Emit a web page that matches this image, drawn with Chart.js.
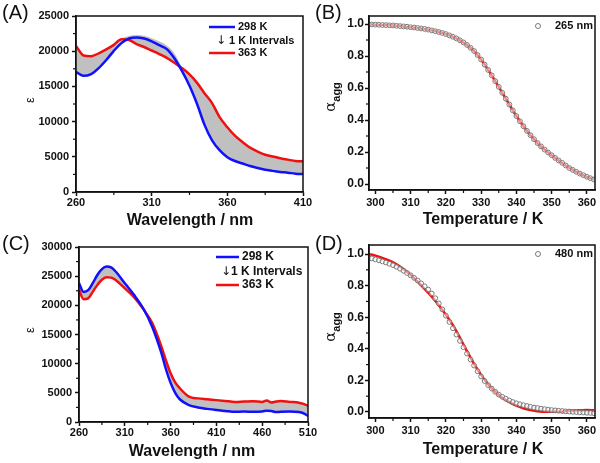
<!DOCTYPE html>
<html>
<head>
<meta charset="utf-8">
<script src="https://cdn.jsdelivr.net/npm/chart.js@4/dist/chart.umd.min.js"></script>
<style>
  body { margin: 0; background: #fff; }
  #wrap { position: relative; width: 600px; height: 463px; overflow: hidden; }
  canvas { position: absolute; }
</style>
</head>
<body>
<div id="wrap">
  <canvas id="chartA" width="320" height="232" style="left:0;top:0"></canvas>
  <canvas id="chartB" width="300" height="232" style="left:300px;top:0"></canvas>
  <canvas id="chartC" width="320" height="232" style="left:0;top:231px"></canvas>
  <canvas id="chartD" width="300" height="232" style="left:300px;top:231px"></canvas>
</div>
<script>
// ---- (A) spectra, 298 K and 363 K ----
const aWavelength = [260,265,270,275,280,285,290,295,300,305,310,315,320,325,330,335,340,345,350,355,360,365,370,375,380,385,390,395,400,405,410];
const aBlue298 = [17050,16500,16750,17600,18750,20050,21150,21800,21950,21800,21400,20850,20300,19000,17200,15100,12500,9500,7300,5900,4950,4400,4050,3700,3400,3150,3000,2850,2750,2600,2550];
const aRed363 = [20750,19400,19300,19700,20250,20900,21700,21600,21000,20600,20100,19600,19050,18350,17600,16700,15500,14000,12600,10600,9200,8000,7100,6300,5750,5300,5050,4800,4600,4400,4350];
// upper edge of the grey band of intermediate temperatures near the maximum
const aBandWl = [285,290,295,300,305,310,315,320,325,330];
const aBandTop = [20950,21750,22150,22300,22200,21850,21400,20800,19700,17700];

// ---- (C) spectra, 298 K and 363 K ----
const cWavelength = [260,265,270,275,280,285,290,295,300,310,320,330,340,350,355,360,365,370,380,390,400,410,420,430,440,450,460,465,470,475,480,490,500,505,510];
const cBlue298 = [23800,22300,22600,23800,25200,26200,26650,26500,25800,23800,21800,19500,16300,11800,9000,6700,5000,3900,2900,2500,2250,2050,1900,1750,1800,1750,1800,1950,1900,1700,1750,1800,1700,1500,1050];
const cRed363 = [22650,21050,21200,22300,23500,24400,24800,24750,24350,22900,21400,19400,16950,12900,10500,8350,6800,5800,4350,4050,3900,3750,3600,3450,3500,3550,3450,3700,3350,3500,3600,3450,3300,3100,2800];

// ---- (B) and (D) degree of aggregation ----
const temperature = [298,299,300,301,302,303,304,305,306,307,308,309,310,311,312,313,314,315,316,317,318,319,320,321,322,323,324,325,326,327,328,329,330,331,332,333,334,335,336,337,338,339,340,341,342,343,344,345,346,347,348,349,350,351,352,353,354,355,356,357,358,359,360,361,362];
const bAlpha265 = [0.998,0.997,0.996,0.995,0.994,0.993,0.992,0.991,0.989,0.987,0.985,0.983,0.980,0.978,0.975,0.972,0.969,0.965,0.960,0.955,0.950,0.944,0.937,0.929,0.920,0.910,0.898,0.885,0.869,0.851,0.831,0.806,0.778,0.746,0.713,0.679,0.643,0.607,0.570,0.533,0.497,0.460,0.425,0.392,0.361,0.332,0.305,0.280,0.256,0.235,0.215,0.197,0.180,0.163,0.147,0.132,0.116,0.100,0.088,0.076,0.065,0.055,0.045,0.036,0.028];
const bFitTemp = [298,300,302,304,306,308,310,312,314,316,318,320,322,324,326,328,330,332,334,336,338,340,342,344,346,348,350,352,354,356,358,360,362];
const bFitAlpha = [0.998,0.996,0.994,0.992,0.989,0.985,0.980,0.975,0.969,0.960,0.950,0.937,0.920,0.898,0.869,0.831,0.778,0.713,0.643,0.570,0.497,0.425,0.361,0.305,0.256,0.215,0.180,0.147,0.116,0.088,0.065,0.045,0.028];
const dAlpha480 = [0.978,0.972,0.966,0.960,0.953,0.946,0.938,0.930,0.919,0.907,0.894,0.880,0.865,0.849,0.832,0.814,0.795,0.775,0.750,0.720,0.687,0.650,0.610,0.570,0.530,0.490,0.450,0.410,0.370,0.332,0.294,0.258,0.225,0.196,0.170,0.148,0.128,0.110,0.096,0.084,0.073,0.063,0.055,0.049,0.043,0.038,0.033,0.028,0.025,0.021,0.018,0.015,0.012,0.010,0.008,0.006,0.004,0.003,0.001,0.000,-0.002,-0.003,-0.005,-0.006,-0.008];
const dFitTemp = [298,300,302,304,306,308,310,312,314,316,318,320,322,324,326,328,330,332,334,336,338,340,342,344,346,348,350,352,353,354,355,356,358,360,362];
const dFitAlpha = [1.0,0.99,0.975,0.958,0.935,0.905,0.868,0.825,0.778,0.73,0.675,0.615,0.55,0.47,0.385,0.305,0.235,0.175,0.128,0.09,0.062,0.04,0.024,0.012,0.004,0.002,0.001,0.001,0.002,0.006,0.009,0.01,0.011,0.012,0.011];

// ---- tick labels ----
const aXTicks = [260,310,360,410];
const aYTicks = [0,5000,10000,15000,20000,25000];
const cXTicks = [260,310,360,410,460,510];
const cYTicks = [0,5000,10000,15000,20000,25000,30000];
const tXTicks = [300,310,320,330,340,350,360];
const tYTicks = [0,0.2,0.4,0.6,0.8,1.0];

const FONT = '"Liberation Sans", Arial, sans-serif';
const BLUE = '#1010ff';
const RED = '#f01010';
const GREY = '#c0c0c0';

function pts(xs, ys) {
  return xs.map((x, i) => ({ x: x, y: ys[i] }));
}

// draws the box, minor ticks, panel letter, axis titles and legend
const decor = {
  id: 'decor',
  afterDraw(chart, args, o) {
    const ctx = chart.ctx, ca = chart.chartArea;
    const xs = chart.scales.x, ys = chart.scales.y;
    ctx.save();
    ctx.strokeStyle = '#111';
    ctx.lineWidth = 1.5;
    ctx.strokeRect(ca.left, ca.top, ca.right - ca.left, ca.bottom - ca.top);

    // minor ticks halfway between the major ones
    ctx.lineWidth = 1.2;
    const mx = o.xTicks, my = o.yTicks;
    for (let i = 0; i < mx.length - 1; i++) {
      const px = xs.getPixelForValue((mx[i] + mx[i + 1]) / 2);
      ctx.beginPath(); ctx.moveTo(px, ca.bottom); ctx.lineTo(px, ca.bottom + 3); ctx.stroke();
    }
    for (let i = 0; i < my.length - 1; i++) {
      const py = ys.getPixelForValue((my[i] + my[i + 1]) / 2);
      ctx.beginPath(); ctx.moveTo(ca.left, py); ctx.lineTo(ca.left - 3, py); ctx.stroke();
    }

    ctx.fillStyle = '#111';
    // panel letter
    ctx.font = '20px ' + FONT;
    ctx.textAlign = 'left';
    ctx.textBaseline = 'middle';
    ctx.fillText(o.letter, o.letterX, 13);

    // x title
    ctx.font = 'bold 16px ' + FONT;
    ctx.textAlign = 'center';
    ctx.fillText(o.xTitle, o.xTitleX, o.xTitleY);

    // y title (rotated)
    ctx.save();
    ctx.translate(o.yTitleX, o.yTitleY);
    ctx.rotate(-Math.PI / 2);
    if (o.yTitle === 'eps') {
      ctx.font = '13px ' + FONT;
      ctx.textAlign = 'center';
      ctx.fillText('ε', 0, 0);
    } else {
      ctx.font = '15px "DejaVu Serif", serif';
      ctx.textAlign = 'left';
      const w = ctx.measureText('α').width;
      ctx.font = 'bold 11px ' + FONT;
      const ws = ctx.measureText('agg').width;
      const start = -(w + ws) / 2;
      ctx.font = '15px "DejaVu Serif", serif';
      ctx.fillText('α', start, -2);
      ctx.font = 'bold 11px ' + FONT;
      ctx.fillText('agg', start + w, 4);
    }
    ctx.restore();

    // legend
    const L = o.legend;
    if (L.type === 'lines') {
      ctx.lineWidth = 2.5;
      ctx.strokeStyle = BLUE;
      ctx.beginPath(); ctx.moveTo(L.x0, L.y1); ctx.lineTo(L.x1, L.y1); ctx.stroke();
      ctx.strokeStyle = RED;
      ctx.beginPath(); ctx.moveTo(L.x0, L.y3); ctx.lineTo(L.x1, L.y3); ctx.stroke();
      ctx.textAlign = 'left';
      ctx.font = 'bold ' + L.size + 'px ' + FONT;
      ctx.fillText('298 K', L.tx, L.y1);
      ctx.fillText('363 K', L.tx, L.y3);
      ctx.fillText('1 K Intervals', L.ix, L.y2);
      ctx.font = '12px "DejaVu Sans", sans-serif';
      ctx.textAlign = 'center';
      ctx.fillText('↓', L.ax, L.y2);
    } else {
      ctx.lineWidth = 1;
      ctx.strokeStyle = '#777';
      ctx.beginPath(); ctx.arc(L.cx, L.cy, 2.5, 0, Math.PI * 2); ctx.stroke();
      ctx.font = 'bold 11px ' + FONT;
      ctx.textAlign = 'left';
      ctx.fillText(L.text, L.tx, L.cy);
    }
    ctx.restore();
  }
};

function axes(cfg) {
  const tickFont = (s) => ({ family: FONT, weight: 'bold', size: s });
  return {
    x: {
      type: 'linear', min: cfg.xMin, max: cfg.xMax,
      afterBuildTicks: (s) => { s.ticks = cfg.xTicks.map(v => ({ value: v })); },
      afterFit: (s) => { s.height = cfg.xHeight; s.paddingLeft = 0; s.paddingRight = 0; },
      grid: { drawOnChartArea: false, drawTicks: true, tickLength: 4, tickWidth: 1.5, tickColor: '#111' },
      border: { display: true, color: '#111', width: 1.5 },
      ticks: { color: '#111', font: tickFont(cfg.xFont), padding: cfg.xPad, maxRotation: 0, autoSkip: false }
    },
    y: {
      type: 'linear', min: cfg.yMin, max: cfg.yMax,
      afterBuildTicks: (s) => { s.ticks = cfg.yTicks.map(v => ({ value: v })); },
      afterFit: (s) => { s.width = cfg.yWidth; s.paddingTop = 0; s.paddingBottom = 0; },
      grid: { drawOnChartArea: false, drawTicks: true, tickLength: 4, tickWidth: 1.5, tickColor: '#111' },
      border: { display: true, color: '#111', width: 1.5 },
      ticks: { color: '#111', font: tickFont(cfg.yFont), padding: cfg.yPad, autoSkip: false, callback: cfg.yFmt }
    }
  };
}

function baseOptions(cfg, decorOpts) {
  return {
    responsive: false,
    animation: false,
    devicePixelRatio: 1,
    layout: { padding: { left: 0, top: cfg.top, right: cfg.right, bottom: 0 } },
    scales: axes(cfg),
    plugins: {
      legend: { display: false },
      tooltip: { enabled: false },
      filler: { drawTime: 'beforeDatasetsDraw' },
      decor: decorOpts
    },
    elements: { point: { radius: 0 } }
  };
}

function spectrumChart(id, xs, blue, red, band, cfg, decorOpts) {
  const datasets = [
    { data: pts(xs, blue), borderColor: BLUE, borderWidth: 2.5, cubicInterpolationMode: 'monotone', fill: false, order: 1 },
    { data: pts(xs, red), borderColor: RED, borderWidth: 2.5, cubicInterpolationMode: 'monotone', fill: 0, backgroundColor: GREY, order: 2 }
  ];
  if (band) {
    datasets.push({ data: pts(band[0], band[1]), borderColor: 'rgba(0,0,0,0)', borderWidth: 0, cubicInterpolationMode: 'monotone', fill: 0, backgroundColor: GREY, order: 3 });
  }
  return new Chart(document.getElementById(id), {
    type: 'line',
    data: { datasets: datasets },
    options: baseOptions(cfg, decorOpts),
    plugins: [decor]
  });
}

function alphaChart(id, temps, alpha, fitT, fitA, cfg, decorOpts) {
  return new Chart(document.getElementById(id), {
    type: 'line',
    data: {
      datasets: [
        { data: pts(temps, alpha), showLine: false, pointRadius: 2.4, pointBorderWidth: 1, pointBorderColor: '#7a7a7a', pointBackgroundColor: 'rgba(255,255,255,0.5)', order: 1 },
        { data: pts(fitT, fitA), borderColor: RED, borderWidth: 2.5, cubicInterpolationMode: 'monotone', pointRadius: 0, fill: false, order: 2 }
      ]
    },
    options: baseOptions(cfg, decorOpts),
    plugins: [decor]
  });
}

const intFmt = (v) => String(v);
const oneFmt = (v) => v.toFixed(1);

spectrumChart('chartA', aWavelength, aBlue298, aRed363, [aBandWl, aBandTop],
  { xMin: 260, xMax: 410, yMin: 0, yMax: 25000, xTicks: aXTicks, yTicks: aYTicks,
    top: 16, right: 17, xHeight: 40, yWidth: 76, xFont: 11, yFont: 11, xPad: 0, yPad: 3, yFmt: intFmt },
  { letter: '(A)', letterX: 2, xTitle: 'Wavelength / nm', xTitleX: 190, xTitleY: 221,
    yTitle: 'eps', yTitleX: 30, yTitleY: 100, xTicks: aXTicks, yTicks: aYTicks,
    legend: { type: 'lines', x0: 209, x1: 235, tx: 238, ix: 229, ax: 221, y1: 27, y2: 41, y3: 53, size: 11 } });

alphaChart('chartB', temperature, bAlpha265, bFitTemp, bFitAlpha,
  { xMin: 298.2, xMax: 362.3, yMin: -0.0375, yMax: 1.05, xTicks: tXTicks, yTicks: tYTicks,
    top: 16, right: 2, xHeight: 42, yWidth: 69, xFont: 11, yFont: 12, xPad: 2, yPad: 1, yFmt: oneFmt },
  { letter: '(B)', letterX: 15, xTitle: 'Temperature / K', xTitleX: 183, xTitleY: 220,
    yTitle: 'alpha', yTitleX: 33, yTitleY: 97, xTicks: tXTicks, yTicks: tYTicks,
    legend: { type: 'circle', cx: 238, cy: 26, tx: 255, text: '265 nm' } });

spectrumChart('chartC', cWavelength, cBlue298, cRed363, null,
  { xMin: 260, xMax: 510, yMin: 0, yMax: 30000, xTicks: cXTicks, yTicks: cYTicks,
    top: 16, right: 12, xHeight: 41, yWidth: 79, xFont: 11, yFont: 11, xPad: 0, yPad: 3, yFmt: intFmt },
  { letter: '(C)', letterX: 2, xTitle: 'Wavelength / nm', xTitleX: 192, xTitleY: 221,
    yTitle: 'eps', yTitleX: 30, yTitleY: 99, xTicks: cXTicks, yTicks: cYTicks,
    legend: { type: 'lines', x0: 216, x1: 239, tx: 242, ix: 231, ax: 226, y1: 26, y2: 41, y3: 54, size: 12 } });

alphaChart('chartD', temperature, dAlpha480, dFitTemp, dFitAlpha,
  { xMin: 298.2, xMax: 362.3, yMin: -0.038, yMax: 1.057, xTicks: tXTicks, yTicks: tYTicks,
    top: 14, right: 2, xHeight: 45, yWidth: 69, xFont: 11, yFont: 12, xPad: 2, yPad: 1, yFmt: oneFmt },
  { letter: '(D)', letterX: 15, xTitle: 'Temperature / K', xTitleX: 183, xTitleY: 219,
    yTitle: 'alpha', yTitleX: 33, yTitleY: 96, xTicks: tXTicks, yTicks: tYTicks,
    legend: { type: 'circle', cx: 238, cy: 23, tx: 255, text: '480 nm' } });
</script>
</body>
</html>
